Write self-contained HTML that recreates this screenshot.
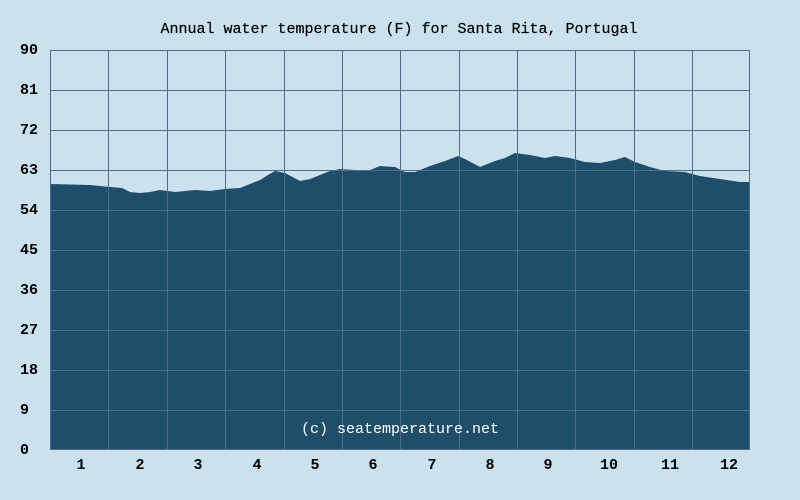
<!DOCTYPE html>
<html><head><style>
html,body{margin:0;padding:0;background:#cbe2ee;}
svg{display:block;font-family:"Liberation Mono",monospace;}
</style></head><body>
<svg width="800" height="500" viewBox="0 0 800 500">
<rect width="800" height="500" fill="#cbe2ee"/>
<text x="399" y="33" text-anchor="middle" font-size="15" fill="#000" stroke="#000" stroke-width="0.2">Annual water temperature (F) for Santa Rita, Portugal</text>
<polygon fill="#1f4e6b" points="50,450 50,184 90,185 110,187 122,188 130,192 140,193 150,192 160,190 168,191 175,192 185,191 195,190 210,191 225,189 240,188 250,184 260,180 268,175 275,171 285,173 300,181 310,179 320,175 330,171 340,169 355,170 370,170 380,166 395,167 405,172 415,172 430,166 445,161 458,156 465,159 480,167 495,161 505,158 515,153 530,155 545,158 555,156 570,158 585,162 600,163 615,160 625,157 635,162 650,167 665,171 685,172 700,176 720,179 740,182 750,182 750,450"/>
<g stroke="#4d6e86" stroke-width="1">
<path d="M50 90.5H750M50 130.5H750M50 170.5H750M50 210.5H750M50 250.5H750M50 290.5H750M50 330.5H750M50 370.5H750M50 410.5H750"/>
<path d="M108.5 50V450M167.5 50V450M225.5 50V450M284.5 50V450M342.5 50V450M400.5 50V450M459.5 50V450M517.5 50V450M575.5 50V450M634.5 50V450M692.5 50V450"/>
</g>
<rect x="50.5" y="50.5" width="699" height="399" fill="none" stroke="#4d6e86"/>
<g font-size="15" font-weight="bold" fill="#000">
<text x="20" y="54">90</text><text x="20" y="94">81</text><text x="20" y="134">72</text><text x="20" y="174">63</text><text x="20" y="214">54</text><text x="20" y="254">45</text><text x="20" y="294">36</text><text x="20" y="334">27</text><text x="20" y="374">18</text><text x="20" y="414">9</text><text x="20" y="454">0</text>
</g>
<g font-size="15" font-weight="bold" fill="#000" text-anchor="middle">
<text x="81" y="469">1</text><text x="140" y="469">2</text><text x="198" y="469">3</text><text x="257" y="469">4</text><text x="315" y="469">5</text><text x="373" y="469">6</text><text x="432" y="469">7</text><text x="490" y="469">8</text><text x="548" y="469">9</text><text x="609" y="469">10</text><text x="670" y="469">11</text><text x="729" y="469">12</text>
</g>
<text x="400" y="433" text-anchor="middle" font-size="15" fill="#ffffff">(c) seatemperature.net</text>
</svg>
</body></html>
